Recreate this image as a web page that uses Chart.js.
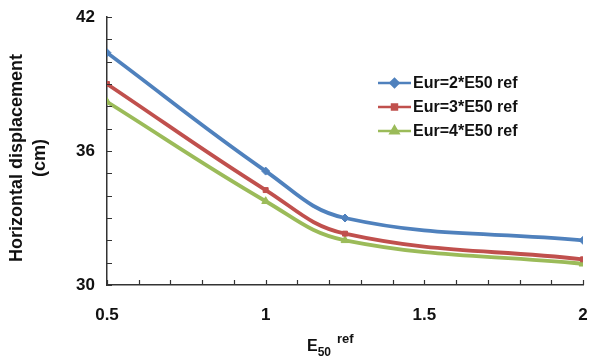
<!DOCTYPE html>
<html>
<head>
<meta charset="utf-8">
<script src="https://cdn.jsdelivr.net/npm/chart.js@4"></script>
<style>
  html, body { margin: 0; padding: 0; background: #fff; }
</style>
</head>
<body>
<canvas id="chart" width="590" height="356"></canvas>
<script>
// E50 ref multipliers and horizontal displacement (cm) per Eur ratio
const e50Ref = [0.5, 1, 1.25, 2];
const eur2 = [40.4, 35.1, 33.0, 32.0];
const eur3 = [39.0, 34.25, 32.3, 31.15];
const eur4 = [38.2, 33.75, 32.0, 30.95];
const seriesLabels = ['Eur=2*E50 ref', 'Eur=3*E50 ref', 'Eur=4*E50 ref'];
const yTickLabels = [30, 36, 42];
const xTickLabels = [0.5, 1, 1.5, 2];

const FONT = '"Liberation Sans", Arial, sans-serif';
const AXIS = '#333333';

function toPoints(values) {
  return e50Ref.map((x, i) => ({ x: x, y: values[i] }));
}

function series(label, values, color, style, radius) {
  return {
    label: label,
    data: toPoints(values),
    borderColor: color,
    backgroundColor: color,
    borderWidth: 3.8,
    pointStyle: style,
    pointRadius: radius,
    pointBorderWidth: 1,
    tension: 0.4,
  };
}

const datasets = [
  series(seriesLabels[0], eur2, '#4F81BD', 'rectRot', 4),
  series(seriesLabels[1], eur3, '#C0504D', 'rect', 3.5),
  series(seriesLabels[2], eur4, '#9BBB59', 'triangle', 4.5),
];

// small tick marks pointing into the plot area
const innerTicks = {
  id: 'innerTicks',
  afterDatasetsDraw(chart) {
    const { ctx, chartArea } = chart;
    const xs = chart.scales.x, ys = chart.scales.y;
    ctx.save();
    ctx.strokeStyle = AXIS;
    ctx.lineWidth = 1.2;
    ctx.beginPath();
    ys.ticks.forEach(t => {
      const py = Math.round(ys.getPixelForValue(t.value)) + 0.5;
      ctx.moveTo(chartArea.left, py);
      ctx.lineTo(chartArea.left + 5, py);
    });
    xs.ticks.forEach(t => {
      const px = Math.round(xs.getPixelForValue(t.value)) + 0.5;
      ctx.moveTo(px, chartArea.bottom);
      ctx.lineTo(px, chartArea.bottom - 5);
    });
    ctx.stroke();
    ctx.restore();
  }
};

// axis titles, with sub/superscript on the x title
const axisTitles = {
  id: 'axisTitles',
  afterDraw(chart) {
    const { ctx } = chart;
    ctx.save();
    ctx.fillStyle = '#111';
    ctx.textAlign = 'center';
    ctx.textBaseline = 'middle';
    ctx.font = 'bold 18px ' + FONT;
    ctx.translate(0, 158);
    ctx.rotate(-Math.PI / 2);
    ctx.fillText('Horizontal displacement', 0, 17);
    ctx.fillText('(cm)', 0, 40);
    ctx.restore();

    ctx.save();
    ctx.fillStyle = '#111';
    ctx.textAlign = 'left';
    ctx.textBaseline = 'alphabetic';
    let x = 307;
    ctx.font = 'bold 16px ' + FONT;
    ctx.fillText('E', x, 351);
    x += ctx.measureText('E').width;
    ctx.font = 'bold 12px ' + FONT;
    ctx.fillText('50', x, 356);
    x += ctx.measureText('50').width + 6;
    ctx.font = 'bold 13px ' + FONT;
    ctx.fillText('ref', x, 343);
    ctx.restore();
  }
};

// legend inside the plot: line sample with its marker, then the label
const lineLegend = {
  id: 'lineLegend',
  afterDraw(chart) {
    const { ctx } = chart;
    const left = 378, top = 83, rowGap = 24, sample = 33;
    ctx.save();
    ctx.font = 'bold 16px ' + FONT;
    ctx.textBaseline = 'middle';
    ctx.textAlign = 'left';
    chart.data.datasets.forEach((ds, i) => {
      const y = top + i * rowGap;
      ctx.strokeStyle = ds.borderColor;
      ctx.fillStyle = ds.borderColor;
      ctx.lineWidth = 2.5;
      ctx.beginPath();
      ctx.moveTo(left, y);
      ctx.lineTo(left + sample, y);
      ctx.stroke();
      Chart.helpers.drawPoint(ctx, {
        pointStyle: ds.pointStyle, radius: ds.pointRadius, borderWidth: 1, rotation: 0
      }, left + sample / 2, y);
      ctx.fillStyle = '#111';
      ctx.fillText(ds.label, left + sample + 2, y + 1);
    });
    ctx.restore();
  }
};

function noPadding(scale) {
  scale.paddingLeft = 0;
  scale.paddingRight = 0;
  scale.paddingTop = 0;
  scale.paddingBottom = 0;
}

new Chart(document.getElementById('chart'), {
  type: 'line',
  data: { datasets: datasets },
  plugins: [innerTicks, axisTitles, lineLegend],
  options: {
    responsive: false,
    animation: false,
    layout: { padding: { top: 17, right: 7, left: 0, bottom: 0 } },
    plugins: { legend: { display: false }, tooltip: { enabled: false } },
    scales: {
      x: {
        type: 'linear',
        min: 0.5,
        max: 2,
        afterFit(scale) { scale.height = 71; noPadding(scale); },
        grid: { display: true, drawOnChartArea: false, drawTicks: false },
        border: { color: AXIS, width: 1.5 },
        ticks: {
          stepSize: 0.1,
          padding: 20,
          autoSkip: false,
          maxRotation: 0,
          color: '#111',
          font: { family: FONT, size: 17, weight: 'bold' },
          callback(v) {
            const hit = xTickLabels.find(t => Math.abs(t - v) < 1e-6);
            return hit === undefined ? '' : String(hit);
          }
        }
      },
      y: {
        min: 30,
        max: 42,
        afterFit(scale) { scale.width = 107; noPadding(scale); },
        grid: { display: true, drawOnChartArea: false, drawTicks: false },
        border: { color: AXIS, width: 1.5 },
        ticks: {
          stepSize: 1,
          padding: 12,
          autoSkip: false,
          color: '#111',
          font: { family: FONT, size: 17, weight: 'bold' },
          callback(v) {
            return yTickLabels.includes(v) ? String(v) : '';
          }
        }
      }
    }
  }
});
</script>
</body>
</html>
